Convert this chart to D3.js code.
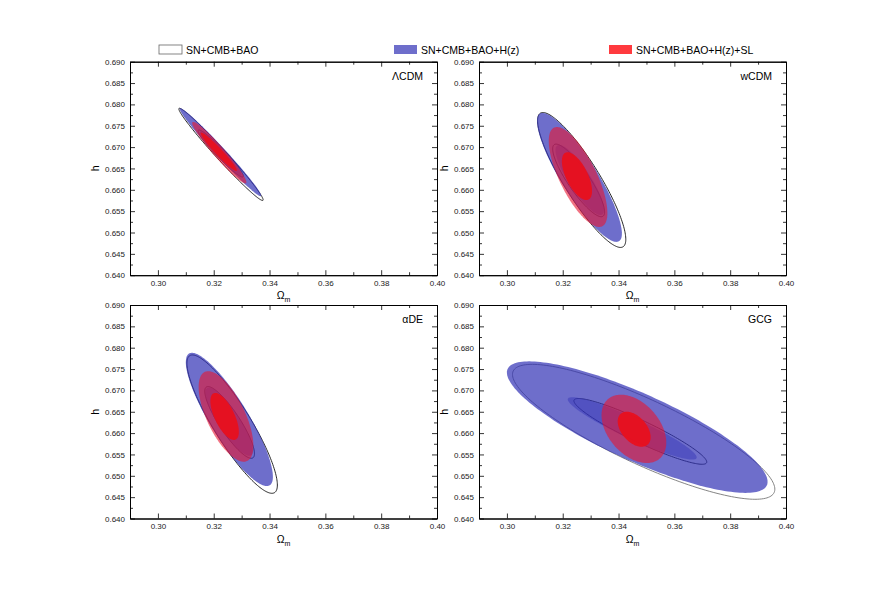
<!DOCTYPE html>
<html>
<head>
<meta charset="utf-8">
<script src="https://cdn.jsdelivr.net/npm/d3@7"></script>
<style>
  body { margin: 0; background: #fff; }
  svg { font-family: 'Liberation Sans', Arial, sans-serif; }
</style>
</head>
<body>
<svg id="chart" width="872" height="610"></svg>
<script>
// models shown in the four panels
const models = ['ΛCDM', 'wCDM', 'αDE', 'GCG'];
const datasets = ['SN+CMB+BAO', 'SN+CMB+BAO+H(z)', 'SN+CMB+BAO+H(z)+SL'];

const xTicks = [0.30, 0.32, 0.34, 0.36, 0.38, 0.40];
const xMinor = [0.29, 0.31, 0.33, 0.35, 0.37, 0.39];
const yTicks = [0.640, 0.645, 0.650, 0.655, 0.660, 0.665, 0.670, 0.675, 0.680, 0.685, 0.690];
const yMinor = [0.6425, 0.6475, 0.6525, 0.6575, 0.6625, 0.6675, 0.6725, 0.6775, 0.6825, 0.6875];

// confidence regions: [model, level, Ωm centre, h centre, half width Ωm, half width h, correlation]
const baoContours = [
  ['ΛCDM', 2, 0.3226, 0.6683, 0.0151, 0.0108, -0.986],
  ['ΛCDM', 1, 0.3225, 0.6685, 0.0081, 0.0055, -0.962],
  ['wCDM', 2, 0.3268, 0.6623, 0.0158, 0.0158, -0.88],
  ['wCDM', 1, 0.3257, 0.6622, 0.0093, 0.0085, -0.87],
  ['αDE', 2, 0.3266, 0.6621, 0.0162, 0.0162, -0.88],
  ['αDE', 1, 0.3257, 0.6625, 0.0089, 0.0084, -0.87],
  ['GCG', 2, 0.3490, 0.6603, 0.0470, 0.0158, -0.85],
  ['GCG', 1, 0.3478, 0.6604, 0.0238, 0.0077, -0.93],
];
const hzContours = [
  ['ΛCDM', 2, 0.3224, 0.6688, 0.0146, 0.0103, -0.986],
  ['ΛCDM', 1, 0.3225, 0.6685, 0.0075, 0.0052, -0.962],
  ['wCDM', 2, 0.3260, 0.6629, 0.0152, 0.0151, -0.87],
  ['wCDM', 1, 0.3261, 0.6623, 0.0087, 0.0082, -0.85],
  ['αDE', 2, 0.3256, 0.6632, 0.0156, 0.0156, -0.86],
  ['αDE', 1, 0.3255, 0.6627, 0.0085, 0.0080, -0.85],
  ['GCG', 2, 0.3467, 0.6614, 0.0467, 0.0154, -0.83],
  ['GCG', 1, 0.3449, 0.6611, 0.0231, 0.0073, -0.93],
];
const slContours = [
  ['ΛCDM', 2, 0.3220, 0.6687, 0.0097, 0.0072, -0.962],
  ['ΛCDM', 1, 0.3218, 0.6689, 0.0065, 0.0045, -0.964],
  ['wCDM', 2, 0.3255, 0.6630, 0.0105, 0.0117, -0.72],
  ['wCDM', 1, 0.3251, 0.6632, 0.0054, 0.0056, -0.62],
  ['αDE', 2, 0.3244, 0.6639, 0.0098, 0.0106, -0.65],
  ['αDE', 1, 0.3239, 0.6639, 0.0051, 0.0055, -0.65],
  ['GCG', 2, 0.3455, 0.6610, 0.0116, 0.0080, -0.40],
  ['GCG', 1, 0.3456, 0.6609, 0.0059, 0.0041, -0.45],
];

const svg = d3.select('#chart');
const W = 307, H = 213.5;
const origins = [[130, 61.7], [479, 61.7], [130, 305], [479, 305]];

const x = d3.scaleLinear().domain([0.29, 0.40]).range([0, W]);
const y = d3.scaleLinear().domain([0.640, 0.690]).range([H, 0]);

// ellipse outline of a correlated gaussian region
const ellipse = (c) => {
  const [, , cx, cy, hx, hy, rho] = c;
  const s = Math.sqrt(1 - rho * rho);
  return d3.range(0, 2 * Math.PI, Math.PI / 90).map((t) => [
    x(cx + hx * Math.cos(t)),
    y(cy + hy * (rho * Math.cos(t) + s * Math.sin(t))),
  ]);
};
const line = d3.line().curve(d3.curveLinearClosed);

// legend
const legend = [
  { x: 159, fill: '#fff', stroke: '#666' },
  { x: 394, fill: '#6e6ecb', stroke: 'none' },
  { x: 609, fill: '#ff3a3e', stroke: 'none' },
];
legend.forEach((l, i) => {
  svg.append('rect')
    .attr('x', l.x).attr('y', 45).attr('width', 23).attr('height', 9)
    .attr('fill', l.fill).attr('stroke', l.stroke).attr('stroke-width', 0.8);
  svg.append('text')
    .attr('x', l.x + 27).attr('y', 53.5)
    .attr('font-size', 10.5)
    .text(datasets[i]);
});

models.forEach((model, i) => {
  const [ox, oy] = origins[i];
  const g = svg.append('g').attr('transform', `translate(${ox},${oy})`);

  g.append('clipPath').attr('id', `clip${i}`)
    .append('rect').attr('width', W).attr('height', H);
  const plot = g.append('g').attr('clip-path', `url(#clip${i})`);

  // SN+CMB+BAO outlines underneath
  baoContours.filter((c) => c[0] === model).forEach((c) => {
    plot.append('path')
      .attr('d', line(ellipse(c)))
      .attr('fill', 'none')
      .attr('stroke', model === 'GCG' && c[1] === 2 ? '#777' : '#111')
      .attr('stroke-width', 0.9);
  });

  // H(z) filled regions
  hzContours.filter((c) => c[0] === model).forEach((c) => {
    plot.append('path')
      .attr('d', line(ellipse(c)))
      .attr('fill', 'rgb(48,48,181)')
      .attr('fill-opacity', c[1] === 2 ? 0.7 : 0.45);
  });

  // +SL filled regions
  slContours.filter((c) => c[0] === model).forEach((c) => {
    plot.append('path')
      .attr('d', line(ellipse(c)))
      .attr('fill', c[1] === 2 ? 'rgb(232,22,48)' : '#e8101e')
      .attr('fill-opacity', c[1] === 2 ? 0.6 : 0.95);
  });

  // axes with inward ticks on all four sides
  const axes = [
    [d3.axisBottom(x).tickValues(xTicks).tickFormat(d3.format('.2f')), `translate(0,${H})`, true],
    [d3.axisBottom(x).tickValues(xMinor).tickFormat(''), `translate(0,${H})`, false],
    [d3.axisTop(x).tickValues(xTicks).tickFormat(''), null, true],
    [d3.axisTop(x).tickValues(xMinor).tickFormat(''), null, false],
    [d3.axisLeft(y).tickValues(yTicks).tickFormat(d3.format('.3f')), null, true],
    [d3.axisLeft(y).tickValues(yMinor).tickFormat(''), null, false],
    [d3.axisRight(y).tickValues(yTicks).tickFormat(''), `translate(${W},0)`, true],
    [d3.axisRight(y).tickValues(yMinor).tickFormat(''), `translate(${W},0)`, false],
  ];
  axes.forEach(([ax, tr, major]) => {
    const a = g.append('g')
      .call(ax.tickSizeInner(major ? -5 : -3).tickSizeOuter(0).tickPadding(5));
    if (tr) a.attr('transform', tr);
    a.select('.domain').attr('stroke', '#000').attr('stroke-width', 1);
    a.selectAll('.tick line').attr('stroke', '#000').attr('stroke-width', 0.8);
    a.selectAll('text').attr('font-size', 8).attr('fill', '#222')
      .attr('font-family', "'Liberation Sans', Arial, sans-serif");
  });

  // axis titles
  const xt = g.append('text')
    .attr('x', W / 2).attr('y', H + 24)
    .attr('text-anchor', 'middle').attr('font-size', 10.5);
  xt.append('tspan').text('Ω');
  xt.append('tspan').attr('font-size', 7).attr('dy', 3).text('m');

  g.append('text')
    .attr('transform', `translate(${-31},${H / 2}) rotate(-90)`)
    .attr('text-anchor', 'middle').attr('font-size', 10.5)
    .text('h');

  // model label
  g.append('text')
    .attr('x', W - 14).attr('y', 18)
    .attr('text-anchor', 'end').attr('font-size', 10.5)
    .text(model);
});
</script>
</body>
</html>
